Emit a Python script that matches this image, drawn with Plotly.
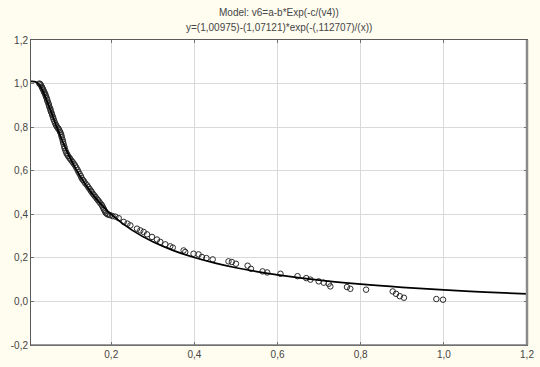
import plotly.graph_objects as go

# Observed data points (open circles)
obs_x = [0.027, 0.029, 0.031, 0.033, 0.034, 0.036, 0.037, 0.039, 0.040, 0.042,
         0.043, 0.045, 0.046, 0.047, 0.049, 0.050, 0.051, 0.053, 0.054, 0.055,
         0.057, 0.058, 0.060, 0.061, 0.063, 0.065, 0.067, 0.069, 0.071, 0.073,
         0.075, 0.077, 0.079, 0.080, 0.081, 0.083, 0.084, 0.085, 0.087, 0.088,
         0.090, 0.092, 0.094, 0.096, 0.099, 0.101, 0.104, 0.107, 0.110, 0.113,
         0.116, 0.119, 0.121, 0.124, 0.127, 0.129, 0.132, 0.135, 0.138, 0.142,
         0.145, 0.148, 0.151, 0.153, 0.156, 0.159, 0.162, 0.165, 0.168, 0.171,
         0.174, 0.177, 0.179, 0.181, 0.183, 0.185, 0.187, 0.190, 0.193, 0.197,
         0.203, 0.210, 0.218, 0.230, 0.239, 0.246, 0.262, 0.270, 0.278, 0.286,
         0.298, 0.310, 0.318, 0.330, 0.342, 0.348, 0.374, 0.378, 0.398, 0.410,
         0.418, 0.429, 0.444, 0.482, 0.490, 0.500, 0.528, 0.536, 0.564, 0.575,
         0.607, 0.648, 0.669, 0.679, 0.699, 0.711, 0.723, 0.727, 0.767, 0.775,
         0.813, 0.877, 0.885, 0.894, 0.904, 0.982, 0.998]
obs_y = [1.000, 0.998, 0.992, 0.985, 0.980, 0.974, 0.968, 0.961, 0.955, 0.948,
         0.940, 0.932, 0.925, 0.917, 0.909, 0.902, 0.894, 0.886, 0.879, 0.871,
         0.863, 0.855, 0.846, 0.838, 0.828, 0.818, 0.810, 0.803, 0.797, 0.793,
         0.786, 0.778, 0.770, 0.762, 0.754, 0.742, 0.733, 0.724, 0.712, 0.703,
         0.692, 0.682, 0.675, 0.668, 0.660, 0.655, 0.647, 0.640, 0.632, 0.624,
         0.614, 0.604, 0.595, 0.585, 0.575, 0.565, 0.557, 0.550, 0.541, 0.533,
         0.524, 0.516, 0.508, 0.502, 0.494, 0.487, 0.480, 0.472, 0.465, 0.458,
         0.450, 0.443, 0.436, 0.428, 0.421, 0.413, 0.406, 0.401, 0.398, 0.396,
         0.392, 0.389, 0.382, 0.365, 0.357, 0.349, 0.334, 0.326, 0.319, 0.308,
         0.296, 0.284, 0.273, 0.262, 0.253, 0.247, 0.234, 0.227, 0.219, 0.216,
         0.204, 0.199, 0.193, 0.184, 0.181, 0.173, 0.164, 0.150, 0.138, 0.133,
         0.127, 0.116, 0.107, 0.100, 0.092, 0.086, 0.081, 0.069, 0.066, 0.058,
         0.054, 0.046, 0.035, 0.024, 0.017, 0.011, 0.008]

# Fitted curve
fit_x = [0.007, 0.015, 0.020, 0.025, 0.030, 0.035, 0.040, 0.045, 0.050, 0.060,
         0.070, 0.080, 0.090, 0.100, 0.120, 0.140, 0.150, 0.160, 0.180, 0.200,
         0.250, 0.300, 0.350, 0.400, 0.450, 0.500, 0.550, 0.600, 0.700, 0.800,
         0.900, 1.000, 1.100, 1.200]
fit_y = [1.0098, 1.0092, 1.0059, 0.9979, 0.9847, 0.9670, 0.9458, 0.9222, 0.8973, 0.8461,
         0.7956, 0.7479, 0.7036, 0.6627, 0.5910, 0.5308, 0.5044, 0.4801, 0.4370, 0.4000,
         0.3273, 0.2740, 0.2334, 0.2016, 0.1759, 0.1547, 0.1370, 0.1220, 0.0978, 0.0793,
         0.0646, 0.0527, 0.0429, 0.0345]

x_ticks = [0.2, 0.4, 0.6, 0.8, 1.0, 1.2]
x_labels = ["0,2", "0,4", "0,6", "0,8", "1,0", "1,2"]
y_ticks = [-0.2, 0.0, 0.2, 0.4, 0.6, 0.8, 1.0, 1.2]
y_labels = ["-0,2", "0,0", "0,2", "0,4", "0,6", "0,8", "1,0", "1,2"]

title1 = "Model: v6=a-b*Exp(-c/(v4))"
title2 = "y=(1,00975)-(1,07121)*exp(-(,112707)/(x))"

font_fam = "Liberation Sans, Arial, sans-serif"
txt_col = "#454545"

fig = go.Figure()
fig.add_trace(go.Scatter(
    x=obs_x, y=obs_y, mode="markers",
    marker=dict(symbol="circle-open", size=5.5, color="#2a2a2a", line=dict(width=1, color="#2a2a2a")),
    showlegend=False, hoverinfo="skip"))
fig.add_trace(go.Scatter(
    x=fit_x, y=fit_y, mode="lines", line=dict(color="#000000", width=1.7, shape="spline"),
    showlegend=False, hoverinfo="skip"))

axis_common = dict(
    automargin=False,
    showgrid=True, gridcolor="#d9d9d9", gridwidth=1,
    zeroline=False, showline=True, linecolor="#5a5a5a", linewidth=1, mirror="ticks",
    ticks="inside", ticklen=3, tickcolor="#707070",
    tickfont=dict(family=font_fam, size=10, color=txt_col),
)

fig.update_layout(
    width=540, height=367,
    margin=dict(l=31, r=13, t=40, b=22),
    paper_bgcolor="#fffcf0", plot_bgcolor="#ffffff",
    xaxis=dict(range=[0.007, 1.2], tickvals=x_ticks, ticktext=x_labels, **axis_common),
    yaxis=dict(range=[-0.2, 1.2], tickvals=y_ticks, ticktext=y_labels, **axis_common),
    annotations=[
        dict(text=title1, xref="paper", yref="paper", x=0.5, y=1.0, yshift=28,
             showarrow=False, font=dict(family=font_fam, size=10, color=txt_col),
             xanchor="center", yanchor="middle"),
        dict(text=title2, xref="paper", yref="paper", x=0.5, y=1.0, yshift=13,
             showarrow=False, font=dict(family=font_fam, size=10, color=txt_col),
             xanchor="center", yanchor="middle"),
    ],
    shapes=[
        dict(type="line", xref="paper", yref="paper", x0=1, x1=1, y0=0, y1=1,
             line=dict(color="#8a8a8a", width=2.5)),
        dict(type="line", xref="paper", yref="paper", x0=0, x1=1, y0=0, y1=0,
             line=dict(color="#7a7a7a", width=1.5)),
    ],
)

fig.write_html(
    "out.html",
    config={"displayModeBar": False},
    post_script="document.body.style.margin='0';document.body.style.background='#fffcf0';",
)
